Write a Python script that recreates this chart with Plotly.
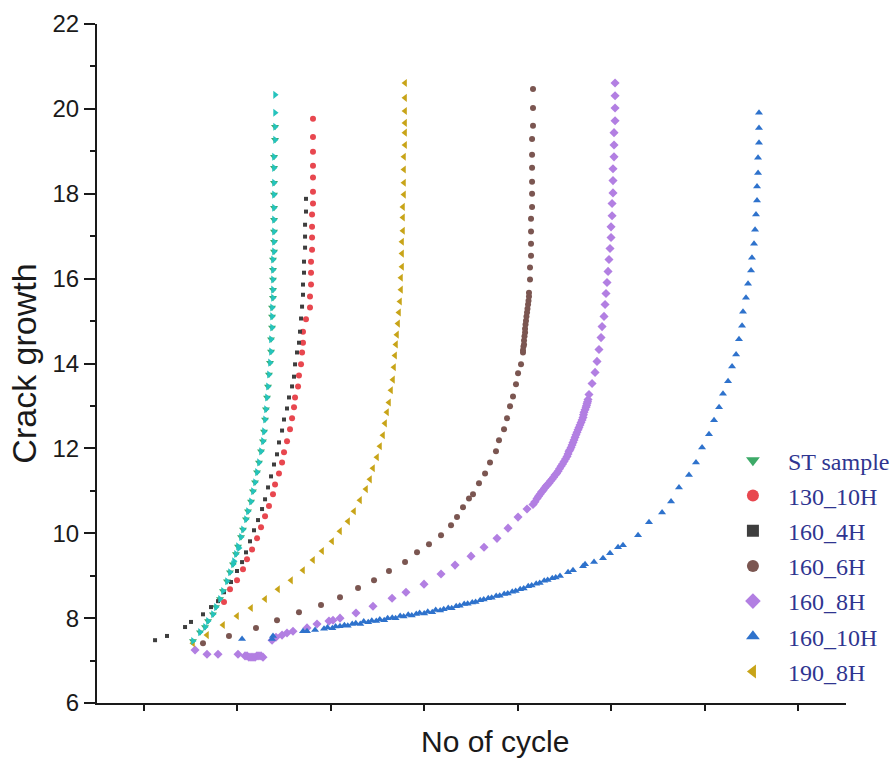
import plotly.graph_objects as go

# Crack length (mm) versus number of cycles (thousands) for each heat-treatment condition

# ST sample
st_x = [10.27, 11.02, 11.56, 11.88, 12.41, 12.73, 13.16, 13.48, 13.91, 14.23, 14.55, 14.87,
        15.09, 15.41, 15.62, 15.94, 16.16, 16.48, 16.69, 16.91, 17.12, 17.33, 17.55, 17.76,
        17.87, 17.98, 18.08, 18.19, 18.30, 18.40, 18.51, 18.62, 18.62, 18.73, 18.73, 18.73,
        18.83, 18.83, 18.83, 18.83, 18.83, 18.94, 18.94, 18.94, 18.94, 18.94, 18.94, 18.94,
        18.94, 18.94, 19.05, 19.05]
st_y = [7.46, 7.67, 7.79, 7.93, 8.09, 8.26, 8.45, 8.64, 8.87, 9.08, 9.27, 9.51,
        9.69, 9.91, 10.09, 10.33, 10.52, 10.75, 10.99, 11.20, 11.44, 11.67, 11.93, 12.17,
        12.40, 12.68, 12.92, 13.20, 13.46, 13.74, 14.02, 14.28, 14.57, 14.85, 15.11, 15.32,
        15.55, 15.74, 15.98, 16.21, 16.45, 16.64, 16.87, 17.11, 17.39, 17.67, 17.98, 18.26,
        18.61, 18.87, 19.27, 19.58]
# repeat specimen of the ST condition (drawn under the same legend entry)
st_rep_x = st_x + [14.66, 15.19, 19.05, 19.05]
st_rep_y = st_y + [9.34, 9.65, 19.91, 20.33]

# 130_10H
a130_10_x = [13.59, 14.23, 14.98, 15.62, 16.05, 16.59, 17.12, 17.55, 17.98, 18.40, 18.83, 19.05,
             19.47, 19.80, 20.01, 20.33, 20.65, 20.87, 21.08, 21.19, 21.51, 21.61, 21.83, 21.94,
             22.04, 22.04, 22.36, 22.79, 22.79, 22.90, 22.90, 22.90, 23.01, 23.01, 23.01, 23.01,
             23.11, 23.11, 23.11, 23.11, 23.11, 23.11, 23.11]
a130_10_y = [8.38, 8.68, 8.89, 9.15, 9.39, 9.62, 9.88, 10.14, 10.40, 10.64, 10.92, 11.15,
             11.41, 11.67, 11.91, 12.17, 12.45, 12.71, 12.97, 13.20, 13.46, 13.72, 13.98, 14.26,
             14.49, 14.75, 15.04, 15.32, 15.58, 15.86, 16.14, 16.40, 16.68, 16.97, 17.22, 17.51,
             17.77, 18.05, 18.38, 18.66, 18.99, 19.34, 19.77]

# 160_4H
a160_4_x = [6.21, 7.49, 9.42, 10.06, 11.34, 12.20, 12.95, 13.59, 14.34, 14.98, 15.52, 15.94,
            16.37, 16.80, 17.23, 17.66, 17.98, 18.30, 18.62, 18.94, 19.26, 19.47, 19.80, 20.01,
            20.33, 20.54, 20.87, 21.08, 21.19, 21.40, 21.61, 21.72, 21.83, 21.94, 22.04, 22.04,
            22.15, 22.15, 22.26, 22.26, 22.26, 22.36, 22.36]
a160_4_y = [7.48, 7.58, 7.79, 7.91, 8.09, 8.26, 8.40, 8.61, 8.85, 9.11, 9.32, 9.55,
            9.81, 10.07, 10.31, 10.57, 10.80, 11.08, 11.34, 11.62, 11.86, 12.14, 12.42, 12.68,
            12.94, 13.20, 13.46, 13.69, 13.98, 14.26, 14.49, 14.75, 15.06, 15.34, 15.62, 15.86,
            16.14, 16.40, 16.73, 16.99, 17.27, 17.58, 17.88]

# 160_6H
a160_6_x = [11.34, 14.12, 17.01, 19.26, 21.61, 23.97, 26.00, 27.93, 29.64, 31.24, 32.96, 34.24,
            35.52, 36.81, 37.88, 38.52, 39.16, 39.80, 40.23, 40.87, 41.52, 42.05, 42.69, 43.01,
            43.55, 43.87, 44.19, 44.51, 44.83, 45.05, 45.37,
            45.58, 45.58, 45.63, 45.69, 45.69, 45.74, 45.80, 45.80, 45.85, 45.90, 45.95, 46.01,
            46.06, 46.12, 46.17, 46.22,
            46.22, 46.33, 46.33, 46.44, 46.44, 46.44, 46.44, 46.55, 46.55, 46.55, 46.55, 46.55,
            46.55, 46.65, 46.65, 46.65]
a160_6_y = [7.41, 7.58, 7.77, 7.95, 8.14, 8.31, 8.49, 8.71, 8.89, 9.11, 9.32, 9.55,
            9.74, 9.95, 10.19, 10.38, 10.61, 10.82, 10.92, 11.18, 11.41, 11.67, 11.93, 12.19,
            12.45, 12.71, 12.99, 13.22, 13.51, 13.77, 13.98,
            14.26, 14.31, 14.40, 14.45, 14.54, 14.64, 14.73, 14.82, 14.92, 15.01, 15.11, 15.20,
            15.29, 15.39, 15.48, 15.58,
            15.67, 15.98, 16.26, 16.54, 16.82, 17.11, 17.41, 17.69, 18.00, 18.28, 18.61, 18.92,
            19.29, 19.60, 20.02, 20.47]

# 160_8H
a160_8_x = [10.49, 11.77, 12.95, 15.09, 15.84, 16.05, 16.26, 16.48, 16.69, 16.91, 17.12, 17.33,
            17.55, 17.76, 18.73, 19.15, 19.80, 20.33, 20.97, 22.47, 23.54, 24.82, 25.25, 26.00,
            27.71, 29.53, 31.57, 33.06, 34.99, 36.81, 38.31, 40.02, 41.41, 42.80, 43.98, 45.05,
            46.01, 46.65, 47.08, 47.40, 47.72, 48.04, 48.36, 48.69, 49.01, 49.33, 49.65, 49.97,
            50.29, 50.50, 50.72, 50.93, 51.15, 51.36, 51.57, 51.79, 52.00, 52.11, 52.32, 52.43,
            52.54, 52.64, 52.97, 53.29, 53.50, 53.71, 53.93, 54.04, 54.25, 54.36, 54.46, 54.57,
            54.68, 54.78, 54.89, 55.00, 55.00, 55.11, 55.11, 55.21, 55.21, 55.21, 55.32, 55.32,
            55.32, 55.43, 55.43, 55.43, 55.43,
            46.86, 47.24, 47.56, 47.88, 48.20, 48.52, 48.85, 49.17, 49.49, 49.81, 50.13, 50.40,
            50.61, 50.83, 51.04, 51.25, 51.47, 51.68, 51.90, 52.05, 52.22, 52.38, 52.49]
a160_8_y = [7.25, 7.15, 7.15, 7.15, 7.11, 7.11, 7.08, 7.08, 7.08, 7.08, 7.11, 7.11,
            7.11, 7.08, 7.48, 7.55, 7.60, 7.65, 7.69, 7.77, 7.86, 7.93, 7.95, 8.00,
            8.12, 8.28, 8.47, 8.61, 8.80, 9.04, 9.25, 9.46, 9.67, 9.88, 10.12, 10.38,
            10.57, 10.68, 10.82, 10.92, 11.01, 11.11, 11.18, 11.27, 11.37, 11.46, 11.58, 11.69,
            11.81, 11.93, 12.02, 12.14, 12.26, 12.38, 12.49, 12.61, 12.73, 12.85, 12.97, 13.06,
            13.15, 13.27, 13.53, 13.79, 14.05, 14.33, 14.61, 14.87, 15.11, 15.39, 15.65, 15.91,
            16.17, 16.45, 16.71, 16.97, 17.22, 17.48, 17.77, 18.02, 18.31, 18.59, 18.87, 19.15,
            19.44, 19.72, 20.02, 20.31, 20.61,
            10.74, 10.87, 10.97, 11.06, 11.14, 11.23, 11.32, 11.41, 11.52, 11.63, 11.75, 11.87,
            11.97, 12.08, 12.20, 12.32, 12.44, 12.55, 12.67, 12.79, 12.91, 13.01, 13.10]

# 160_10H
a160_10_x = [15.52, 18.73, 18.83, 22.04, 22.47, 23.33,
             24.29, 24.66, 25.18, 25.53, 26.00, 26.47, 26.83, 27.31, 27.69, 28.17, 28.54, 29.02,
             29.40, 29.88, 30.26, 30.73, 31.10, 31.59, 31.95, 32.44, 32.81, 33.30, 33.68, 34.16,
             34.52, 35.01, 35.39, 35.87, 36.24, 36.72, 37.10, 37.58, 37.95, 38.43, 38.81, 39.29,
             39.66, 40.15, 40.51, 41.00, 41.38, 41.86, 42.23, 42.71, 43.09, 43.57, 43.95, 44.43,
             44.80, 45.28, 45.66, 46.14, 46.51, 46.99, 47.37, 47.85, 48.22, 48.71, 49.08, 49.54,
             50.40, 50.93, 52.00, 52.22, 53.18, 54.14, 54.89, 55.75, 56.28, 57.89, 59.06, 60.46,
             61.42, 62.27, 63.34, 64.09, 64.74, 65.48, 66.02, 66.56, 66.98, 67.52, 67.95, 68.38,
             68.69, 69.02, 69.12, 69.44, 69.66, 69.98, 70.08, 70.30, 70.41, 70.51, 70.62, 70.62,
             70.73, 70.73, 70.83, 70.83, 70.83]
a160_10_y = [7.51, 7.51, 7.58, 7.69, 7.69, 7.72,
             7.75, 7.78, 7.76, 7.80, 7.81, 7.83, 7.82, 7.86, 7.88, 7.86, 7.92, 7.90,
             7.94, 7.93, 7.97, 7.95, 8.00, 8.01, 8.00, 8.05, 8.04, 8.08, 8.06, 8.10,
             8.12, 8.11, 8.15, 8.14, 8.19, 8.18, 8.21, 8.24, 8.23, 8.28, 8.29, 8.33,
             8.34, 8.37, 8.38, 8.42, 8.44, 8.47, 8.48, 8.52, 8.53, 8.57, 8.58, 8.62,
             8.64, 8.68, 8.70, 8.75, 8.77, 8.81, 8.83, 8.88, 8.90, 8.94, 8.96, 8.99,
             9.08, 9.13, 9.22, 9.27, 9.32, 9.41, 9.53, 9.67, 9.72, 9.95, 10.26, 10.49,
             10.75, 11.08, 11.37, 11.67, 12.02, 12.33, 12.66, 12.97, 13.29, 13.58, 13.93, 14.21,
             14.57, 14.89, 15.22, 15.55, 15.88, 16.19, 16.49, 16.82, 17.15, 17.51, 17.84, 18.17,
             18.49, 18.85, 19.20, 19.55, 19.91]

# 190_8H
a190_8_x = [10.27, 11.77, 13.48, 14.98, 16.48, 17.98, 19.37, 20.76, 22.04, 23.11, 24.08, 25.15,
            26.00, 26.86, 27.50, 28.14, 28.78, 29.21, 29.53, 29.96, 30.28, 30.60, 30.82, 31.03,
            31.24, 31.46, 31.67, 31.78, 31.89, 31.99, 32.10, 32.21, 32.31, 32.42, 32.53, 32.53,
            32.64, 32.64, 32.64, 32.74, 32.74, 32.74, 32.85, 32.85, 32.85, 32.85, 32.96, 32.96,
            32.96, 32.96, 32.96, 32.96]
a190_8_y = [7.41, 7.60, 7.84, 8.05, 8.24, 8.45, 8.68, 8.89, 9.13, 9.37, 9.58, 9.81,
            10.05, 10.28, 10.52, 10.78, 11.04, 11.27, 11.53, 11.79, 12.05, 12.31, 12.59, 12.85,
            13.08, 13.37, 13.62, 13.91, 14.19, 14.45, 14.68, 14.94, 15.20, 15.46, 15.74, 16.02,
            16.28, 16.59, 16.87, 17.13, 17.44, 17.69, 17.98, 18.26, 18.57, 18.87, 19.15, 19.44,
            19.67, 19.95, 20.26, 20.61]

y_ticks = [6, 8, 10, 12, 14, 16, 18, 20, 22]
x_ticks = [5, 15, 25, 35, 45, 55, 65, 75]

series = [
    ("ST sample", st_x, st_y, "triangle-down", "#3daa68", 7),
    ("130_10H", a130_10_x, a130_10_y, "circle", "#e8474f", 6),
    ("160_4H", a160_4_x, a160_4_y, "square", "#3e3e3e", 4),
    ("160_6H", a160_6_x, a160_6_y, "circle", "#7b5651", 6),
    ("160_8H", a160_8_x, a160_8_y, "diamond", "#b27fe2", 7),
    ("160_10H", a160_10_x, a160_10_y, "triangle-up", "#2e72cc", 7),
    ("190_8H", a190_8_x, a190_8_y, "triangle-left", "#c8a418", 7),
]

fig = go.Figure()

for name, xs, ys, sym, col, sz in series:
    fig.add_trace(go.Scatter(
        x=xs, y=ys, mode="markers", name=name, legendgroup=name,
        marker=dict(symbol=sym, color=col, size=sz),
    ))

fig.add_trace(go.Scatter(
    x=st_rep_x, y=st_rep_y, mode="markers", name="ST sample", legendgroup="ST sample",
    showlegend=False, marker=dict(symbol="triangle-right", color="#25c3bd", size=7),
))

axis_font = "Liberation Sans, Arial, sans-serif"
ink = "#1a1a1a"

fig.update_layout(
    width=896, height=763,
    margin=dict(l=97, r=50, t=24, b=60, autoexpand=False),
    paper_bgcolor="white", plot_bgcolor="white",
    font=dict(family=axis_font, color=ink),
    legend=dict(
        x=0.829, y=0.390, xanchor="left", yanchor="top",
        bgcolor="rgba(0,0,0,0)",
        font=dict(family="Liberation Serif, Times New Roman, serif", size=24, color="#2f3590"),
        itemsizing="constant", itemwidth=60, tracegroupgap=1,
    ),
    xaxis=dict(
        range=[0, 80.14], tickvals=x_ticks, showticklabels=False,
        ticks="outside", ticklen=6, tickwidth=2, tickcolor=ink,
        showline=True, linewidth=2, linecolor=ink,
        showgrid=False, zeroline=False,
    ),
    yaxis=dict(
        range=[6, 22], tickvals=y_ticks,
        ticks="outside", ticklen=11, tickwidth=2, tickcolor=ink,
        minor=dict(dtick=1, tick0=6, ticks="outside", ticklen=5, tickwidth=2, tickcolor=ink),
        tickfont=dict(size=24, family=axis_font, color=ink),
        showline=True, linewidth=2, linecolor=ink,
        showgrid=False, zeroline=False,
        title=dict(text="Crack growth", font=dict(size=34, family=axis_font, color=ink), standoff=6),
    ),
    annotations=[dict(
        text="No of cycle", xref="paper", yref="paper", x=0.531, y=-0.0574,
        xanchor="center", yanchor="middle", showarrow=False,
        font=dict(size=30, family=axis_font, color=ink),
    )],
)

fig.write_html("out.html")
